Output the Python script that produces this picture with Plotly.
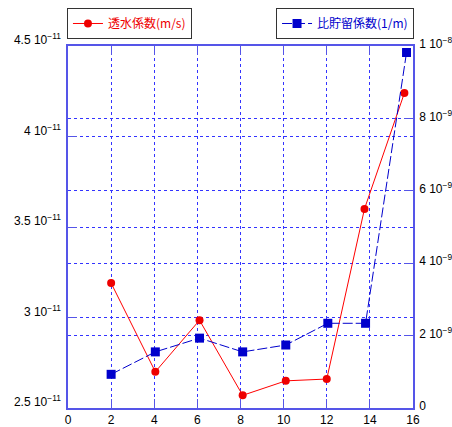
import plotly.graph_objects as go

# Data
x_red = [2.0, 4.05, 6.1, 8.1, 10.1, 12.0, 13.75, 15.6]
red_vals = [3.19e-11, 2.70e-11, 2.985e-11, 2.57e-11, 2.65e-11, 2.66e-11, 3.60e-11, 4.24e-11]
x_blue = [2.0, 4.05, 6.1, 8.1, 10.1, 12.05, 13.8, 15.7]
blue_vals = [0.93e-9, 1.55e-9, 1.93e-9, 1.55e-9, 1.74e-9, 2.34e-9, 2.34e-9, 9.82e-9]

red_name = "透水係数(m/s)"
blue_name = "比貯留係数(1/m)"

x_ticks = [0, 2, 4, 6, 8, 10, 12, 14, 16]
left_ticks = [2.5e-11, 3.0e-11, 3.5e-11, 4.0e-11, 4.5e-11]
left_labels = ["2.5 10<sup>−11</sup>", "3 10<sup>−11</sup>", "3.5 10<sup>−11</sup>",
               "4 10<sup>−11</sup>", "4.5 10<sup>−11</sup>"]
right_ticks = [0, 2e-9, 4e-9, 6e-9, 8e-9, 1e-8]
right_labels = ["0", "2 10<sup>−9</sup>", "4 10<sup>−9</sup>", "6 10<sup>−9</sup>",
                "8 10<sup>−9</sup>", "1 10<sup>−8</sup>"]

frame_col = "#5555e8"
grid_col = "#3333ff"
font_fam = "Liberation Sans, Arial, Noto Sans CJK JP, sans-serif"
cjk_fam = "Noto Sans CJK JP, sans-serif"

fig = go.Figure()
fig.add_trace(go.Scatter(
    x=x_red, y=red_vals, name=red_name, mode="lines+markers",
    line=dict(color="#ff0000", width=1),
    marker=dict(symbol="circle", size=8, color="#ee0000"),
    yaxis="y", legend="legend"))
fig.add_trace(go.Scatter(
    x=x_blue, y=blue_vals, name=blue_name, mode="lines+markers",
    line=dict(color="#0000cc", width=1, dash="10px,3px"),
    marker=dict(symbol="square", size=9, color="#0000cc"),
    yaxis="y2", legend="legend2"))

fig.update_layout(
    width=452, height=427,
    margin=dict(l=68, r=39, t=46, b=19, autoexpand=False),
    paper_bgcolor="white", plot_bgcolor="white",
    font=dict(family=font_fam, size=12, color="black"),
    xaxis=dict(range=[0, 16], tickvals=x_ticks, ticktext=[str(v) for v in x_ticks],
               showline=True, linecolor=frame_col, linewidth=1.5, mirror="ticks",
               ticks="inside", ticklen=9, tickcolor=frame_col,
               showgrid=True, gridcolor=grid_col, griddash="3px,3px", gridwidth=1,
               zeroline=False, tickfont=dict(size=12), ticklabelstandoff=0,
               automargin=False),
    yaxis=dict(range=[2.5e-11, 4.5e-11], tickvals=left_ticks, ticktext=left_labels,
               showline=True, linecolor=frame_col, linewidth=1.5,
               ticks="inside", ticklen=9, tickcolor=frame_col,
               showgrid=True, gridcolor=grid_col, griddash="3px,3px", gridwidth=1,
               zeroline=False, tickfont=dict(size=12), ticklabelshift=-6,
               ticklabelstandoff=3, automargin=False),
    yaxis2=dict(range=[0, 1e-8], tickvals=right_ticks, ticktext=right_labels,
                overlaying="y", side="right",
                showline=True, linecolor=frame_col, linewidth=1.5,
                ticks="inside", ticklen=9, tickcolor=frame_col,
                showgrid=True, gridcolor=grid_col, griddash="3px,3px", gridwidth=1,
                zeroline=False, tickfont=dict(size=12), ticklabelshift=-2,
                ticklabelstandoff=2, automargin=False),
    legend=dict(x=-0.003, y=1.105, xanchor="left", yanchor="top",
                bordercolor="#333333", borderwidth=1, bgcolor="white",
                font=dict(family=cjk_fam, size=12, color="#ee0000"),
                itemwidth=30, tracegroupgap=0),
    legend2=dict(x=1.003, y=1.105, xanchor="right", yanchor="top",
                 bordercolor="#333333", borderwidth=1, bgcolor="white",
                 font=dict(family=cjk_fam, size=12, color="#0000cc"),
                 itemwidth=30, tracegroupgap=0),
    showlegend=True,
)

fig.write_html("out.html", config={"displayModeBar": False},
               post_script="document.body.style.margin='0px';document.body.style.overflow='hidden';")
